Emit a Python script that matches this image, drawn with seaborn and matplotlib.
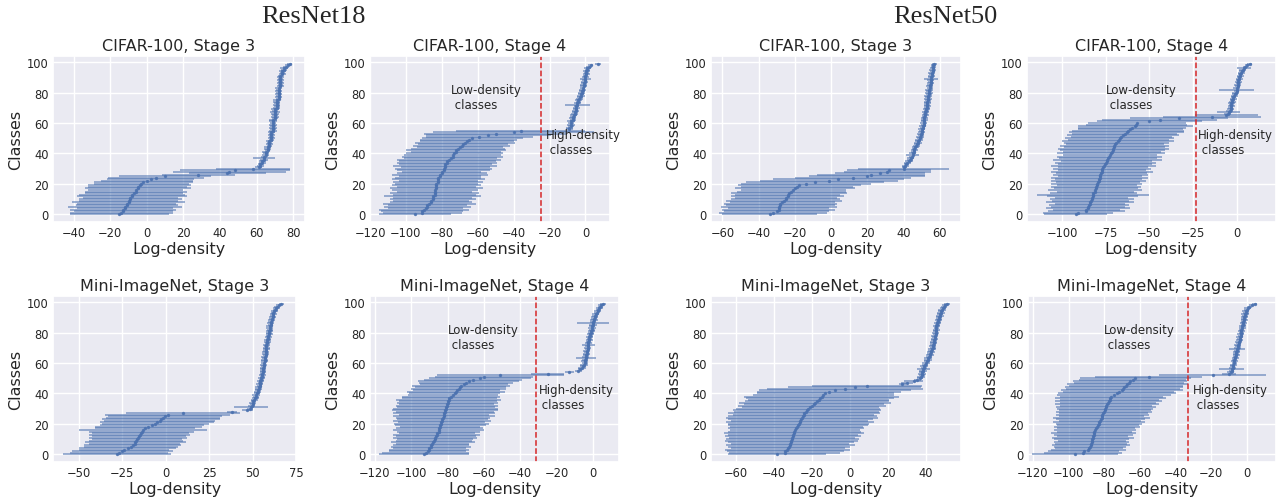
import matplotlib
matplotlib.use("Agg")
import matplotlib.pyplot as plt
import seaborn as sns
import numpy as np

# per-class log-density: sorted mean and half spread, 100 classes per panel
classes = list(range(100))

# ResNet18, CIFAR-100, stage 3
r18_cifar_s3_mean = [-15,-14,-13,-13,-12,-12,-11,-11,-10,-10,
                     -9,-9,-8,-8,-7,-6,-6,-5,-5,-4,
                     -3,-2,0,2,5,10,28,44,45,48,
                     58,61,62,62,63,63,64,64,64,65,
                     65,65,66,66,66,67,67,67,67,68,
                     68,68,68,68,68,69,69,69,69,69,
                     69,69,69,70,70,70,70,70,70,70,
                     71,71,71,71,71,71,72,72,72,72,
                     72,72,72,72,73,73,73,73,73,73,
                     73,73,74,74,74,75,75,76,77,78]
r18_cifar_s3_hw = [27,28,27,29,26,31,28,27,31,27,
                   28,26,30,29,27,28,26,29,27,28,
                   26,27,25,24,26,25,20,21,31,30,
                   20,2,2,1.5,2,1.5,2,6,1.5,2,
                   1.5,2,1.5,2,2,1.5,2,1.5,2,1.5,
                   2,1.5,2,1.5,2,2,1.5,2,1.5,2,
                   1.5,2,2,1.5,2,1.5,2,2.5,1.5,2,
                   2,1.5,2,1.5,2,2,1.5,2,1.5,2,
                   1.5,2,1.5,2,2,1.5,2,1.5,2,1.5,
                   2,1.5,2,1.5,2,1.5,2,1.5,1.5,1.5]

# ResNet18, CIFAR-100, stage 4
r18_cifar_s4_mean = [-95,-91,-91,-90,-89,-88,-88,-87,-86,-86,
                     -85,-85,-85,-84,-84,-84,-84,-83,-83,-83,
                     -83,-82,-82,-82,-82,-81,-81,-80,-80,-79,
                     -79,-78,-78,-78,-77,-77,-76,-75,-74,-74,
                     -73,-72,-72,-71,-70,-69,-68,-67,-66,-65,
                     -63,-59,-54,-50,-40,-36,-9,-9,-8,-8,
                     -8,-8,-7,-7,-7,-6.5,-6,-6,-5.5,-5.5,
                     -5,-5,-4.5,-4.5,-4,-4,-3.5,-3,-2.5,-2.5,
                     -2,-2,-1.5,-1.5,-1,-1,-1,-0.5,-0.5,0,
                     0,0,0.5,0.5,0.5,1,1,2,3,7]
r18_cifar_s4_hw = [20,22,23,25,21,24,22,26,23,21,
                   24,22,27,23,25,21,24,26,22,25,
                   23,25,22,26,24,23,27,25,22,26,
                   27,25,29,26,28,27,29,26,28,27,
                   27,25,28,26,24,27,25,28,26,27,
                   28,30,35,40,45,36,2,2,1.5,2,
                   1.5,2,1.5,2,1.5,2,2,1.5,2,1.5,
                   2,1.5,7,2,1.5,2,2,1.5,2,1.5,
                   2,1.5,2,1.5,2,2,1.5,2,1.5,3,
                   2,1.5,2,1.5,2,1.5,2,1.5,1.5,1.5]

# ResNet50, CIFAR-100, stage 3
r50_cifar_s3_mean = [-34,-32,-30,-29,-29,-29,-28,-28,-27,-26,
                     -25,-25,-24,-24,-23,-22,-21,-20,-19,-17.5,
                     -14,-9,-1,4,12,20,22,27,31,32,
                     40,40.5,41,41.5,42,43,43.5,44,44.5,45,
                     45,45.5,46,46,46.5,47,47.5,48,48,48.5,
                     49,49,49.5,49.5,50,50,50,50.5,50.5,51,
                     51,51,51.5,51.5,51.5,52,52,52,52.5,52.5,
                     53,53,53,53,53,53.5,53.5,53.5,53.5,54,
                     54,54,54,54.5,54.5,54.5,55,55,55,55,
                     55,55.5,55.5,55.5,56,56,56,56.5,56.5,57]
r50_cifar_s3_hw = [26,30,29,31,28,32,30,31,29,32,
                   30,28,31,29,32,30,29,33,31,34,
                   36,38,38,36,32,32,30,25,24,23,
                   25,1.5,2,1.5,2,2,1.5,2,1.5,3.5,
                   2,1.5,2,1.5,2,2,1.5,2,1.5,2,
                   1.5,2,1.5,2,2,1.5,2,1.5,2,1.5,
                   2,1.5,2,2,1.5,2,1.5,2,1.5,2,
                   1.5,2,1.5,2,2,1.5,2,1.5,2,1.5,
                   2,1.5,2,1.5,2,1.5,2,1.5,2,4,
                   1.5,2,1.5,2,1.5,2,1.5,1.5,1.5,1.5]

# ResNet50, CIFAR-100, stage 4
r50_cifar_s4_mean = [-92,-91,-86,-86,-85,-85,-84.5,-84,-84,-83.5,
                     -83,-83,-82.5,-82,-82,-81,-81,-80.5,-80.5,-80,
                     -80,-79.5,-79,-79,-78.5,-78,-78,-77.5,-77,-77,
                     -77,-76.5,-76,-75.5,-75,-74.5,-74,-73.5,-73,-72.5,
                     -72,-71.5,-71,-70.5,-70,-70,-69.5,-69,-68,-67.5,
                     -67,-66,-65,-64,-63,-62,-61,-60,-58,-57.5,
                     -57,-50,-44,-33,-14,-6,-5,-4.5,-4,-3.5,
                     -3.5,-3,-3,-3,-2.5,-2.5,-2,-2,-1.5,-1,
                     -0.5,0,0,0,0.5,0.5,1,1,1,1.5,
                     1.5,2,2,2.5,3,3.5,4,5,6,7.5]
r50_cifar_s4_hw = [18,20,22,19,24,21,23,20,25,22,
                   24,21,26,32,25,22,27,24,26,23,
                   26,24,27,25,28,24,27,26,29,25,
                   28,26,30,27,29,26,31,28,30,27,
                   31,28,30,32,29,31,28,30,32,29,
                   31,29,32,30,33,32,30,31,33,29,
                   28,30,33,28,28,18,2,6.5,2,2,
                   1.5,2,1.5,2,2,1.5,2,1.5,2,1.5,
                   2,1.5,10,2,1.5,2,1.5,2,1.5,2,
                   1.5,2,1.5,2,1.5,2,4,1.5,1.5,1.5]

# ResNet18, Mini-ImageNet, stage 3
r18_mini_s3_mean = [-28,-27,-25,-24,-22,-20,-19,-18,-17.5,-17,
                    -16.5,-16,-15.5,-15,-14.5,-14,-13,-12,-10,-8,
                    -6,-5,-3.5,-2.5,-1.5,-0.5,1,10,38,47,
                    48.5,49,49.5,50,50,50.5,51,51.5,52,52,
                    52.5,53,53,53.5,53.5,54,54,54.5,54.5,55,
                    55,55.5,55.5,55.5,56,56,56,56,56.5,56.5,
                    56.5,57,57,57,57,57.5,57.5,57.5,57.5,58,
                    58,58,58,58.5,58.5,58.5,59,59,59,59.5,
                    59.5,59.5,60,60,60,60.5,60.5,60.5,61,61,
                    61.5,61.5,62,62,62.5,63,63.5,64,65,66.5]
r18_mini_s3_hw = [31,28,29,26,28,27,28,26,29,27,
                  26,28,27,29,28,30,37,29,31,30,
                  31,33,32,34,33,33,36,33,3,3,
                  2,10,2,1.5,2,1.5,2,2,1.5,2.5,
                  1.5,2,1.5,2,2,1.5,2,1.5,2,1.5,
                  2,1.5,2,1.5,2,2,1.5,2,1.5,2,
                  1.5,2,2,1.5,2,1.5,2,2,1.5,2,
                  2,1.5,2,1.5,2,2,1.5,2,1.5,2,
                  1.5,2,1.5,2,2,1.5,2,1.5,2,1.5,
                  2,1.5,2,1.5,2,1.5,2,1.5,1.5,1.5]

# ResNet18, Mini-ImageNet, stage 4
r18_mini_s4_mean = [-93,-92,-91,-90,-90,-89,-89,-88.5,-88,-87.5,
                    -87,-87,-86.5,-86,-86,-85,-85,-84.5,-84,-84,
                    -83.5,-83.5,-83,-83,-82.5,-82,-82,-82,-81.5,-81.5,
                    -81,-81,-80.5,-80.5,-80,-80,-79.5,-79,-78,-77,
                    -76,-75.5,-75,-74,-73,-72.5,-71,-70,-68.5,-66,
                    -62,-60,-51,-25,-13,-8,-7,-6,-5.5,-5,
                    -4.5,-4.5,-4.5,-4,-4,-4,-3.5,-3.5,-3.5,-3,
                    -3,-3,-2.5,-2.5,-2.5,-2,-2,-2,-1.5,-1.5,
                    -1,-1,-0.5,-0.5,-0.5,0,0,0,0.5,0.5,
                    1,1,1.5,2,2.5,3,3.5,4,4.5,5.5]
r18_mini_s4_hw = [25,24,21,22,20,22,21,20,23,21,
                  21,23,22,24,21,23,25,24,22,25,
                  26,24,27,25,26,28,25,28,27,29,
                  29,27,28,26,28,27,29,26,27,25,
                  25,27,24,26,25,27,24,26,28,27,
                  28,27,35,9,2.5,2,1.5,2,1.5,2,
                  1.5,2,1.5,5.5,2,1.5,2,1.5,2,1.5,
                  2,1.5,3.7,2,1.5,2,1.5,2,1.5,2,
                  1.5,2,1.5,2,1.5,2,8.7,1.5,2,1.5,
                  2,1.5,2,1.5,2,1.5,2,1.5,1.5,1.5]

# ResNet50, Mini-ImageNet, stage 3
r50_mini_s3_mean = [-38.5,-34.5,-34,-33,-32.5,-32,-31.5,-31.5,-31,-31,
                    -30.5,-30.5,-30,-30,-29.5,-29.5,-29,-28.5,-28,-27.5,
                    -27,-26.5,-26.5,-26,-25.5,-25,-24.5,-24,-23,-22.5,
                    -22,-21,-20,-19,-18.5,-17.5,-16.5,-16,-15,-14,
                    -13,-11,-8,-2.5,2.5,9,27.5,30,33.5,35.5,
                    37,37.5,38,38,38,38.5,38.5,39,39,39.5,
                    40,40.5,41,41,41.5,42,42,42.5,42.5,43,
                    43.5,43.5,43.5,44,44,44,44.5,44.5,44.5,45,
                    45,45,45.5,45.5,45.5,46,46,46.5,46.5,47,
                    47,47.5,47.5,48,48,48.5,49,49.5,50,51]
r50_mini_s3_hw = [26,29,31,33,30,32,34,31,33,35,
                  35,33,36,34,37,35,34,36,35,37,
                  37,39,36,38,40,39,37,40,38,39,
                  38,36,39,37,40,38,37,39,41,37,
                  36,38,40,41,35,29,2,3,5,2,
                  1.5,2,1.5,2,1.5,2,3.5,1.5,2,1.5,
                  2,1.5,2,2,1.5,2,1.5,2,1.5,2,
                  1.5,2,1.5,2,2,1.5,2,1.5,2,1.5,
                  2,1.5,2,1.5,2,1.5,2,1.5,2,1.5,
                  1.5,2,1.5,2,1.5,2,1.5,1.5,1.5,1.5]

# ResNet50, Mini-ImageNet, stage 4
r50_mini_s4_mean = [-96.5,-92,-91.5,-89,-88.5,-88,-87.5,-87.5,-87,-87,
                    -87,-86.5,-86.5,-86,-86,-85.5,-85,-84.5,-84,-83.5,
                    -83,-83,-82.5,-82,-81.5,-81.5,-81,-80.5,-80,-79.5,
                    -79.5,-79,-79,-78.5,-78,-77.5,-77,-76.5,-76,-74.5,
                    -73,-72,-70,-69.5,-69,-68,-67,-66,-65.5,-64,
                    -62.5,-55,-19,-10,-9,-8.5,-8.5,-8,-8,-7.5,
                    -7,-7,-7,-6.5,-6.5,-6,-6,-6,-5.5,-5.5,
                    -5,-5,-5,-4.5,-4.5,-4,-4,-4,-3.5,-3.5,
                    -3,-3,-3,-2.5,-2.5,-2,-2,-2,-1.5,-1.5,
                    -1.5,-1,-1,-0.5,-0.5,0,0.5,1.5,3,4.5]
r50_mini_s4_hw = [24,22,20,21,19,20,22,20,21,19,
                  21,23,20,22,24,21,23,22,24,23,
                  24,26,23,25,27,24,26,25,27,26,
                  27,28,26,29,27,30,28,31,29,32,
                  33,31,34,32,33,32,34,31,32,30,
                  31,30,30,4,2,1.5,7,2,1.5,2,
                  1.5,2,1.5,2,1.5,2,1.5,2,1.5,4.7,
                  2,1.5,2,1.5,2,2,1.5,2,1.5,2,
                  1.5,2,1.5,2,2,1.5,2,1.5,2,1.5,
                  2,1.5,2,1.5,2,1.5,2,1.5,1.5,1.5]

# split between low- and high-density classes (stage 4 panels)
thr_r18_cifar = -24.5
thr_r50_cifar = -23.5
thr_r18_mini = -31.5
thr_r50_mini = -33

sns.set_theme(style="darkgrid")
plt.rcParams['font.family'] = ['DejaVu Sans']

blue = sns.color_palette("deep")[0]


def density_panel(ax, mean, hw, title, xlim, xticks,
                  thr=None, low_xy=None, high_xy=None):
    """errorbar of log-density per class, optional split line"""
    eb = ax.errorbar(mean, classes, xerr=hw, fmt='o', ms=1.4,
                     color=blue, ecolor=blue, elinewidth=1.4,
                     capsize=0, alpha=0.85)
    # lighter spread bars, darker mean markers
    for bar in eb[2]:
        bar.set_alpha(0.55)
    if thr is not None:
        ax.axvline(thr, color="tab:red", linestyle="--", linewidth=1.1)
        ax.text(low_xy[0], low_xy[1], "Low-density\n classes",
                fontsize=8.5, va="center", ha="left", color="#262626")
        ax.text(high_xy[0], high_xy[1], "High-density\n classes",
                fontsize=8.5, va="center", ha="left", color="#262626")
    ax.set_xlim(xlim)
    ax.set_ylim(-5, 104)
    ax.set_xticks(xticks)
    ax.set_yticks([0, 20, 40, 60, 80, 100])
    ax.tick_params(labelsize=8.3, length=0, pad=3)
    ax.set_title(title, fontsize=11.5, pad=4)
    ax.set_xlabel("Log-density", fontsize=11.5, labelpad=1)
    ax.set_ylabel("Classes", fontsize=11.5, labelpad=3)


W, H = 1283, 502
fig = plt.figure(figsize=(W / 100, H / 100), dpi=100)


def box(x0, x1, top, bottom):
    return [x0 / W, 1 - bottom / H, (x1 - x0) / W, (bottom - top) / H]


ax_a = fig.add_axes(box(53, 305, 57, 223))
ax_b = fig.add_axes(box(370, 610, 57, 223))
ax_c = fig.add_axes(box(711, 961, 57, 223))
ax_d = fig.add_axes(box(1027, 1276, 57, 223))
ax_e = fig.add_axes(box(53, 296, 297, 463))
ax_f = fig.add_axes(box(370, 619, 297, 463))
ax_g = fig.add_axes(box(711, 961, 297, 463))
ax_h = fig.add_axes(box(1028, 1276, 297, 463))

density_panel(ax_a, r18_cifar_s3_mean, r18_cifar_s3_hw, "CIFAR-100, Stage 3",
              (-51.3, 86.4), [-40, -20, 0, 20, 40, 60, 80])
density_panel(ax_b, r18_cifar_s4_mean, r18_cifar_s4_hw, "CIFAR-100, Stage 4",
              (-119.5, 13.7), [-120, -100, -80, -60, -40, -20, 0],
              thr_r18_cifar, (-75, 77.3), (-22, 47.5))
density_panel(ax_c, r50_cifar_s3_mean, r50_cifar_s3_hw, "CIFAR-100, Stage 3",
              (-66.3, 71.7), [-60, -40, -20, 0, 20, 40, 60])
density_panel(ax_d, r50_cifar_s4_mean, r50_cifar_s4_hw, "CIFAR-100, Stage 4",
              (-120, 22.5), [-100, -75, -50, -25, 0],
              thr_r50_cifar, (-75, 77.3), (-22, 47.5))
density_panel(ax_e, r18_mini_s3_mean, r18_mini_s3_hw, "Mini-ImageNet, Stage 3",
              (-65, 74), [-50, -25, 0, 25, 50, 75])
density_panel(ax_f, r18_mini_s4_mean, r18_mini_s4_hw, "Mini-ImageNet, Stage 4",
              (-122.7, 14.3), [-120, -100, -80, -60, -40, -20, 0],
              thr_r18_mini, (-80, 77.2), (-30, 37.5))
density_panel(ax_g, r50_mini_s3_mean, r50_mini_s3_hw, "Mini-ImageNet, Stage 3",
              (-73.2, 58.4), [-60, -40, -20, 0, 20, 40])
density_panel(ax_h, r50_mini_s4_mean, r50_mini_s4_hw, "Mini-ImageNet, Stage 4",
              (-122.8, 16.4), [-120, -100, -80, -60, -40, -20, 0],
              thr_r50_mini, (-80, 77.2), (-30, 37.5))

fig.text(313 / W, 1 - 17 / H, "ResNet18", fontsize=19, ha="center", va="center",
         family=["Liberation Serif", "DejaVu Serif"])
fig.text(945 / W, 1 - 17 / H, "ResNet50", fontsize=19, ha="center", va="center",
         family=["Liberation Serif", "DejaVu Serif"])

fig.savefig("out.png", dpi=100)
